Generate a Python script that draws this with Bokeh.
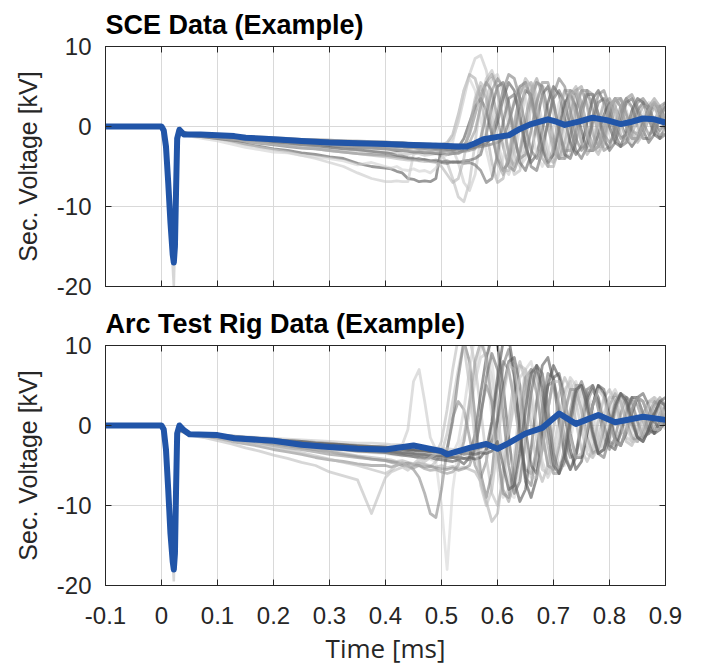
from bokeh.plotting import figure
from bokeh.layouts import column
from bokeh.models import LinearAxis, FixedTicker, Range1d
from bokeh.embed import file_html
from bokeh.resources import INLINE

# ---------------- tick labels ----------------
x_ticks = [-0.1, 0.0, 0.1, 0.2, 0.3, 0.4, 0.5, 0.6, 0.7, 0.8, 0.9]
x_tick_labels = ["-0.1", "0", "0.1", "0.2", "0.3", "0.4", "0.5", "0.6", "0.7", "0.8", "0.9"]
y_ticks = [-20, -10, 0, 10]
y_tick_labels = ["-20", "-10", "0", "10"]

# ---------------- time bases (ms) ----------------
t_spike = [-0.1, 0.0, 0.006, 0.012, 0.018, 0.022, 0.025, 0.028, 0.032, 0.04]
t_gray = [0.03, 0.05, 0.075, 0.1, 0.125, 0.15, 0.175, 0.2, 0.225, 0.25, 0.275, 0.3, 0.325, 0.35, 0.375, 0.4,
          0.41, 0.42, 0.43, 0.44, 0.45, 0.46, 0.47, 0.48, 0.49, 0.5,
          0.51, 0.52, 0.53, 0.54, 0.55, 0.56, 0.57, 0.58, 0.59, 0.6,
          0.61, 0.62, 0.63, 0.64, 0.65, 0.66, 0.67, 0.68, 0.69, 0.7,
          0.71, 0.72, 0.73, 0.74, 0.75, 0.76, 0.77, 0.78, 0.79, 0.8,
          0.81, 0.82, 0.83, 0.84, 0.85, 0.86, 0.87, 0.88, 0.89, 0.9]

# ---------------- SCE data (kV) ----------------
sce_spike = [0, 0, -1, -6, -15, -20, -12, -1.5, -0.3, -0.9]

sce_1 = [-0.6, -1.0, -1.0, -1.1, -1.2, -1.3, -1.4, -1.5, -1.6, -1.6, -1.7, -1.8, -1.8, -1.9, -2.0, -2.0,
         -2.0, -2.1, -2.0, -2.1, -2.2, -2.1, -2.2, -2.2, -2.3, -2.2,
         -2.2, -1.5, 0.5, 3.5, 6.5, 8.5, 8.9, 7.0, 3.0, -1.5,
         -5.0, -6.0, -4.0, 0.0, 4.0, 5.5, 4.0, 0.5, -3.0, -4.5,
         -3.5, 0.0, 3.5, 4.5, 3.0, 0.0, -2.5, -3.0, -1.0, 2.0,
         3.5, 2.5, 0.0, -1.5, -1.8, 0.0, 2.0, 2.8, 1.5, 0.0]
sce_2 = [-0.5, -1.0, -1.1, -1.2, -1.4, -1.6, -1.8, -2.0, -2.2, -2.3, -2.5, -2.6, -2.8, -3.0, -3.1, -3.2,
         -3.3, -3.2, -3.4, -3.5, -3.3, -3.4, -3.6, -3.5, -3.4, -3.6,
         -4.5, -6.5, -8.8, -9.4, -7.0, -2.0, 3.0, 6.0, 7.0, 5.0,
         1.0, -3.5, -6.0, -5.5, -2.0, 2.5, 5.5, 5.0, 2.0, -2.0,
         -4.0, -3.5, -0.5, 3.0, 4.5, 3.0, 0.0, -2.5, -2.5, 0.0,
         2.5, 3.5, 2.0, -0.5, -1.5, -1.0, 1.0, 2.5, 2.5, 1.0]
sce_3 = [-0.6, -1.1, -1.3, -1.5, -1.8, -2.2, -2.5, -2.8, -3.0, -3.3, -3.5, -3.8, -4.0, -4.6, -5.0, -5.2,
         -5.3, -5.6, -5.8, -6.5, -6.6, -6.9, -6.8, -6.9, -6.5, -2.5,
         -2.8, -3.0, -2.6, -1.5, 0.5, 2.5, 3.5, 2.0, -1.0, -4.0,
         -5.5, -4.5, -1.0, 2.5, 4.5, 4.0, 1.0, -2.5, -4.5, -3.5,
         0.0, 3.0, 4.0, 2.5, -0.5, -3.0, -3.0, -1.0, 1.5, 3.0,
         2.5, 0.5, -1.5, -2.5, -1.5, 0.5, 2.0, 2.5, 1.0, -0.5]
sce_4 = [-0.5, -1.0, -1.2, -1.5, -1.9, -2.3, -2.6, -2.9, -3.2, -3.6, -4.0, -4.5, -5.0, -5.8, -6.5, -6.9,
         -6.9, -6.8, -6.9, -6.9, -3.5, -3.2, -3.0, -3.2, -3.0, -3.1,
         -3.0, -2.8, -4.5, -7.0, -8.0, -6.0, -1.5, 3.0, 6.0, 6.5,
         4.0, 0.0, -3.5, -5.0, -4.0, -0.5, 3.0, 5.0, 4.5, 1.5,
         -2.0, -4.0, -3.5, -0.5, 2.5, 4.0, 3.0, 0.5, -2.0, -2.5,
         -1.0, 1.5, 3.0, 2.5, 0.5, -1.5, -1.5, 0.5, 2.0, 2.5]
sce_5 = [-0.5, -1.0, -1.1, -1.2, -1.3, -1.4, -1.5, -1.6, -1.7, -1.8, -1.9, -2.0, -2.1, -2.1, -2.2, -2.3,
         -2.3, -2.4, -2.4, -2.5, -2.5, -2.5, -2.6, -2.6, -2.7, -2.7,
         -2.8, -2.7, -2.8, -2.5, -1.0, 1.5, 4.0, 5.5, 4.5, 1.0,
         -2.5, -5.0, -5.5, -3.5, 0.0, 3.5, 5.5, 5.0, 2.0, -1.5,
         -4.0, -4.0, -1.5, 2.0, 4.5, 4.5, 2.0, -1.0, -3.0, -2.5,
         0.0, 2.5, 3.5, 2.5, 0.0, -1.5, -1.5, 0.5, 2.5, 3.0]
sce_6 = [-0.5, -1.0, -1.2, -1.3, -1.5, -1.7, -1.8, -2.0, -2.1, -2.3, -2.4, -2.6, -2.8, -2.9, -3.1, -3.3,
         -3.4, -3.6, -3.7, -3.9, -4.0, -4.2, -4.1, -4.3, -4.4, -4.5,
         -4.6, -4.4, -4.5, -4.3, -4.2, -4.0, -3.5, -1.0, 2.5, 5.0,
         5.5, 3.0, -1.0, -4.5, -5.5, -3.5, 0.5, 4.0, 5.0, 3.0,
         -0.5, -3.5, -4.0, -2.0, 1.5, 4.0, 4.0, 1.5, -1.5, -3.0,
         -2.0, 0.5, 3.0, 3.5, 2.0, -0.5, -2.0, -1.0, 1.0, 2.5]
sce_7 = [-0.5, -0.9, -1.0, -1.1, -1.2, -1.3, -1.4, -1.5, -1.5, -1.6, -1.7, -1.7, -1.8, -1.9, -1.9, -2.0,
         -2.0, -2.0, -2.1, -2.1, -2.2, -2.1, -2.2, -2.3, -2.2, -2.3,
         -2.0, -1.0, 1.5, 4.5, 6.5, 6.0, 3.5, -0.5, -4.5, -7.0,
         -6.5, -3.5, 0.5, 4.0, 6.0, 5.0, 2.0, -2.0, -5.0, -5.0,
         -2.5, 1.0, 4.0, 5.0, 3.0, 0.0, -2.5, -3.5, -2.0, 1.0,
         3.0, 3.5, 1.5, -1.0, -2.0, -1.0, 1.0, 2.5, 2.0, 0.5]
sce_8 = [-0.5, -1.0, -1.1, -1.3, -1.4, -1.6, -1.7, -1.9, -2.0, -2.1, -2.2, -2.4, -2.5, -2.6, -2.7, -2.8,
         -2.9, -3.0, -3.0, -3.1, -3.2, -3.2, -3.3, -3.3, -3.4, -3.4,
         -3.5, -3.4, -3.3, -3.0, -2.8, -2.6, -2.2, -2.0, -1.5, 0.5,
         3.5, 5.5, 4.5, 1.0, -2.5, -4.5, -3.5, -0.5, 3.0, 5.0,
         4.0, 1.0, -2.0, -3.5, -2.5, 0.5, 3.5, 4.5, 3.0, 0.0,
         -2.0, -2.5, -0.5, 2.0, 3.5, 3.0, 1.0, -1.0, -1.5, 0.0]
sce_9 = [-0.6, -1.2, -1.5, -1.8, -2.2, -2.6, -2.9, -3.2, -3.3, -3.6, -3.8, -4.0, -4.3, -4.8, -4.5, -5.0,
         -5.2, -5.0, -5.4, -5.5, -5.3, -5.6, -5.5, -5.8, -5.2, -4.0,
         -3.5, -2.0, 1.0, 4.5, 6.0, 4.5, 1.0, -3.0, -6.0, -6.5,
         -4.0, 0.0, 3.5, 5.0, 3.5, 0.0, -3.5, -5.0, -3.5, 0.0,
         3.0, 4.5, 3.5, 0.5, -2.0, -3.0, -2.0, 0.5, 2.5, 3.5,
         2.5, 0.0, -1.5, -2.0, -0.5, 1.5, 3.0, 2.5, 0.5, -1.0]
sce_10 = [-0.5, -1.0, -1.1, -1.2, -1.3, -1.4, -1.6, -1.7, -1.8, -1.9, -2.0, -2.1, -2.2, -2.3, -2.3, -2.4,
          -2.4, -2.5, -2.5, -2.6, -2.6, -2.7, -2.7, -2.7, -2.8, -2.8,
          -2.9, -2.9, -2.8, -2.9, -2.7, -2.6, -2.5, -2.4, -2.2, -2.0,
          -1.5, 0.5, 3.0, 5.0, 5.5, 3.5, 0.0, -3.0, -4.5, -3.5,
          -0.5, 2.5, 4.5, 4.0, 1.5, -1.5, -3.0, -2.5, 0.0, 2.5,
          3.5, 2.5, 0.0, -1.5, -1.5, 0.0, 2.0, 3.0, 2.0, 0.5]
sce_11 = [-0.5, -1.0, -1.0, -1.1, -1.2, -1.2, -1.3, -1.4, -1.5, -1.6, -1.6, -1.7, -1.8, -1.8, -1.9, -1.9,
          -2.0, -2.0, -2.0, -2.1, -2.1, -2.2, -2.2, -2.2, -2.3, -2.3,
          -2.3, -2.4, -2.3, -2.2, -2.0, -0.5, 2.5, 5.5, 6.5, 4.5,
          0.5, -3.5, -5.0, -3.0, 1.0, 4.5, 6.0, 4.0, 0.0, -3.0,
          -4.0, -2.0, 1.5, 4.5, 5.0, 2.5, -1.0, -2.5, -1.5, 1.5,
          3.5, 3.5, 1.5, -0.5, -1.0, 0.5, 2.5, 3.5, 2.5, 1.0]
sce_12 = [-0.5, -1.1, -1.3, -1.5, -1.7, -1.9, -2.1, -2.3, -2.5, -2.7, -2.8, -3.0, -3.2, -3.4, -3.5, -3.6,
          -3.7, -3.8, -3.9, -4.0, -4.1, -4.0, -4.2, -4.3, -4.2, -4.4,
          -4.3, -4.5, -4.4, -4.6, -4.5, -4.8, -5.5, -7.0, -6.5, -3.5,
          0.5, 3.5, 4.0, 1.5, -2.0, -5.0, -5.5, -3.0, 0.5, 3.5,
          4.5, 3.0, 0.0, -3.0, -4.0, -2.5, 0.5, 3.0, 3.5, 1.5,
          -1.0, -2.5, -2.0, 0.0, 2.0, 3.0, 2.0, 0.0, -1.5, -1.0]
sce_13 = [-0.5, -1.0, -1.1, -1.2, -1.4, -1.5, -1.7, -1.8, -2.0, -2.1, -2.2, -2.3, -2.5, -2.6, -2.7, -2.8,
          -2.8, -2.9, -3.0, -3.0, -3.1, -3.1, -3.2, -3.2, -3.3, -3.3,
          -3.4, -3.3, -3.4, -3.0, -0.5, 3.0, 5.0, 3.5, -0.5, -4.5,
          -6.0, -4.0, 0.0, 4.0, 5.5, 3.5, -0.5, -4.0, -5.0, -2.5,
          1.5, 4.5, 4.5, 1.5, -2.0, -3.5, -2.5, 0.5, 3.0, 3.5,
          1.5, -1.0, -2.0, -1.0, 1.0, 2.5, 2.5, 0.5, -1.0, -1.0]
sce_14 = [-0.5, -1.0, -1.0, -1.1, -1.2, -1.3, -1.4, -1.5, -1.6, -1.7, -1.8, -1.8, -1.9, -2.0, -2.0, -2.1,
          -2.1, -2.2, -2.2, -2.3, -2.3, -2.4, -2.4, -2.4, -2.5, -2.5,
          -2.6, -2.6, -2.5, -2.6, -2.5, -2.4, -2.3, -2.2, -1.0, 1.5,
          4.5, 6.5, 6.0, 3.5, 0.0, -3.0, -4.0, -2.5, 0.5, 4.0,
          6.0, 5.0, 2.0, -1.5, -3.0, -2.0, 1.0, 4.0, 4.5, 2.5,
          0.0, -1.5, -1.0, 1.0, 3.0, 3.5, 2.5, 0.5, -0.5, 0.5]
sce_15 = [-0.5, -1.0, -1.2, -1.4, -1.6, -1.8, -2.0, -2.2, -2.4, -2.6, -2.8, -3.0, -3.2, -3.4, -3.6, -3.8,
          -3.9, -4.0, -4.1, -4.2, -4.2, -4.3, -4.4, -4.4, -4.5, -5.0,
          -6.0, -7.0, -6.5, -4.0, 0.0, 3.5, 5.5, 4.5, 1.0, -3.0,
          -5.5, -5.5, -2.5, 1.5, 5.0, 5.5, 3.0, -1.0, -4.0, -4.5,
          -2.0, 1.5, 4.0, 4.5, 2.0, -1.0, -3.0, -2.5, 0.0, 2.5,
          3.5, 2.5, 0.0, -1.5, -1.5, 0.0, 2.0, 3.0, 2.0, 0.5]
sce_16 = [-0.5, -1.0, -1.1, -1.2, -1.3, -1.5, -1.6, -1.7, -1.8, -1.9, -2.0, -2.1, -2.2, -2.3, -2.4, -2.5,
          -2.5, -2.6, -2.6, -2.7, -2.7, -2.8, -2.8, -2.9, -2.9, -3.0,
          -3.0, -3.1, -3.0, -3.1, -3.0, -2.8, -1.5, 1.5, 4.5, 6.0,
          5.0, 2.0, -1.5, -4.0, -3.5, -0.5, 3.0, 5.5, 5.5, 3.0,
          -0.5, -3.0, -3.0, -0.5, 2.5, 4.5, 4.0, 1.5, -1.0, -2.0,
          -1.0, 1.5, 3.5, 4.0, 2.5, 0.5, -1.0, -0.5, 1.5, 3.0]

sce_mean_t = [-0.1, 0.0, 0.004, 0.008, 0.012, 0.016, 0.02, 0.022, 0.024, 0.026,
              0.028, 0.032, 0.04, 0.07, 0.1, 0.13, 0.15, 0.2, 0.25, 0.3,
              0.35, 0.4, 0.45, 0.5, 0.53, 0.545, 0.56, 0.575, 0.6, 0.62,
              0.64, 0.66, 0.69, 0.705, 0.72, 0.745, 0.77, 0.795, 0.82, 0.84,
              0.86, 0.88, 0.9]
sce_mean_v = [0, 0, -0.5, -2.5, -7.0, -12.0, -16.0, -17.0, -15.0, -8.0,
              -1.5, -0.4, -1.0, -1.0, -1.1, -1.2, -1.4, -1.6, -1.8, -2.0,
              -2.1, -2.2, -2.3, -2.4, -2.5, -2.5, -2.1, -1.6, -1.3, -1.1,
              -0.3, 0.3, 0.9, 0.6, 0.2, 0.6, 1.1, 0.8, 0.3, 0.6,
              1.0, 0.9, 0.5]

# ---------------- Arc test rig data (kV) ----------------
arc_spike = [0, 0, -1, -6, -15, -19.5, -12, -1.0, 0.2, -0.7]

arc_1 = [-0.5, -1.0, -1.1, -1.3, -1.5, -1.6, -1.8, -2.0, -2.1, -2.2, -2.3, -2.4, -2.5, -2.6, -2.7, -2.5,
         -2.6, -2.5, -2.4, -0.5, 5.5, 7.0, 3.0, -1.5, -3.0, -3.5,
         -4.0, -3.8, -3.5, -2.0, 1.5, 5.5, 8.5, 9.0, 6.0, 1.0,
         -4.0, -7.0, -6.5, -3.0, 1.5, 5.5, 7.0, 5.0, 1.0, -3.0,
         -5.0, -4.0, -0.5, 3.0, 5.0, 4.0, 1.0, -2.0, -3.0, -1.5,
         1.5, 3.5, 3.5, 1.5, -0.5, -1.5, -0.5, 1.5, 3.0, 2.5]
arc_2 = [-0.5, -1.0, -1.2, -1.4, -1.6, -1.8, -2.0, -2.2, -2.4, -2.6, -2.8, -3.0, -3.1, -3.3, -3.4, -3.5,
         -3.6, -3.7, -3.8, -3.6, -3.9, -4.0, -3.8, -4.2, -4.5, -10.0,
         -18.0, -8.0, -3.0, -1.0, 2.5, 6.5, 9.5, 11.0, 8.0, 2.0,
         -4.0, -8.5, -9.0, -5.5, 0.0, 5.0, 7.5, 6.5, 2.5, -2.0,
         -5.0, -5.0, -2.0, 2.0, 4.5, 4.5, 2.0, -1.0, -2.5, -2.0,
         0.5, 2.5, 3.5, 2.5, 0.5, -1.0, -1.0, 0.5, 2.5, 3.0]
arc_3 = [-0.5, -1.1, -1.3, -1.6, -2.0, -2.3, -2.6, -3.0, -3.3, -3.6, -4.0, -4.3, -4.5, -4.8, -5.0, -5.0,
         -5.2, -5.0, -4.8, -5.0, -5.5, -6.5, -8.5, -11.0, -11.5, -8.0,
         -3.0, 1.0, 3.0, 2.0, -1.5, -5.0, -6.5, -4.5, 0.0, 5.0,
         8.0, 7.0, 3.0, -2.0, -5.5, -6.0, -3.0, 1.5, 5.0, 5.5,
         2.5, -1.5, -4.0, -3.5, -0.5, 3.0, 4.5, 3.0, 0.0, -2.0,
         -2.5, -0.5, 2.0, 3.5, 2.5, 0.5, -1.0, -0.5, 1.5, 2.5]
arc_4 = [-0.6, -1.2, -1.5, -1.9, -2.3, -2.8, -3.2, -3.7, -4.1, -4.6, -5.0, -5.8, -6.3, -6.8, -11.0, -6.5,
         -5.8, -5.5, -5.2, -5.6, -5.0, -4.6, -4.8, -5.2, -4.5, -3.5,
         -1.0, 3.0, 7.0, 10.5, 11.0, 7.5, 2.0, -4.0, -8.5, -10.0,
         -7.0, -1.5, 4.0, 7.5, 7.0, 3.0, -2.0, -5.5, -6.0, -3.0,
         1.0, 4.5, 5.5, 3.0, -0.5, -3.5, -4.0, -1.5, 1.5, 3.5,
         3.5, 1.0, -1.5, -2.0, -0.5, 1.5, 3.0, 3.0, 1.0, -0.5]
arc_5 = [-0.5, -1.0, -1.2, -1.3, -1.5, -1.7, -1.9, -2.1, -2.3, -2.5, -2.7, -2.9, -3.0, -3.2, -3.3, -3.4,
         -3.5, -3.6, -3.7, -3.8, -3.9, -4.0, -4.1, -4.0, -4.2, -4.3,
         -4.4, -4.5, -4.3, -4.8, -4.0, -1.0, 4.0, 8.5, 11.0, 10.0,
         5.0, -1.5, -7.0, -9.5, -8.0, -3.0, 3.0, 7.5, 8.5, 5.5,
         0.5, -4.0, -5.5, -4.0, 0.0, 3.5, 5.0, 3.5, 0.0, -2.5,
         -3.0, -1.0, 1.5, 3.5, 3.5, 1.5, -0.5, -1.0, 0.5, 2.5]
arc_6 = [-0.5, -1.0, -1.1, -1.2, -1.4, -1.5, -1.7, -1.8, -1.9, -2.0, -2.1, -2.3, -2.4, -2.5, -2.6, -2.7,
         -2.8, -2.9, -3.0, -3.0, -3.1, -3.2, -3.2, -3.3, -3.4, -3.5,
         -3.0, 0.5, 6.0, 10.5, 8.0, 1.0, -6.0, -9.0, -6.0, 1.0,
         7.5, 9.5, 6.0, -1.0, -6.5, -7.5, -3.5, 2.5, 6.5, 6.0,
         1.5, -3.5, -5.5, -3.5, 0.5, 4.5, 5.0, 2.0, -1.5, -3.0,
         -1.5, 1.5, 3.5, 3.0, 0.5, -1.5, -1.0, 1.0, 3.0, 2.5]
arc_7 = [-0.5, -1.0, -1.2, -1.4, -1.6, -1.8, -2.0, -2.2, -2.5, -2.7, -3.0, -3.2, -3.5, -3.8, -4.0, -4.2,
         -4.3, -4.5, -4.4, -4.6, -4.8, -4.7, -4.9, -5.0, -5.2, -5.0,
         -5.3, -5.1, -5.4, -5.2, -5.5, -5.8, -7.0, -9.5, -12.0, -11.0,
         -6.0, 0.5, 6.0, 8.0, 5.5, 0.0, -5.0, -7.0, -5.0, -0.5,
         4.0, 6.0, 4.5, 0.5, -3.0, -4.5, -3.0, 0.5, 3.5, 4.5,
         3.0, 0.0, -2.0, -2.5, -1.0, 1.0, 3.0, 3.5, 2.0, 0.0]
arc_8 = [-0.5, -1.0, -1.1, -1.2, -1.3, -1.5, -1.6, -1.7, -1.9, -2.0, -2.1, -2.2, -2.4, -2.5, -2.6, -2.7,
         -2.8, -2.8, -2.9, -3.0, -3.0, -3.1, -3.1, -3.2, -3.2, -3.3,
         -3.3, -3.4, -3.2, -3.3, -3.1, -3.0, -2.8, -2.5, -2.0, 0.5,
         4.5, 8.0, 8.5, 5.0, -0.5, -5.0, -6.0, -3.0, 2.0, 6.0,
         6.5, 3.5, -1.0, -4.0, -4.0, -1.0, 2.5, 5.0, 4.5, 1.5,
         -1.5, -2.5, -1.0, 1.5, 3.5, 4.0, 2.5, 0.5, -0.5, 0.5]
arc_9 = [-0.5, -1.0, -1.2, -1.3, -1.4, -1.6, -1.7, -1.9, -2.0, -2.2, -2.3, -2.5, -2.6, -2.8, -2.9, -3.0,
         -3.1, -3.2, -3.2, -3.3, -3.4, -3.4, -3.5, -3.6, -3.6, -3.7,
         -3.8, -3.5, -2.0, 2.0, 7.0, 11.5, 12.0, 8.0, 1.0, -5.5,
         -9.0, -8.0, -3.5, 2.5, 7.0, 8.0, 5.0, -0.5, -5.0, -6.0,
         -3.5, 1.0, 4.5, 5.5, 3.5, 0.0, -3.0, -3.5, -1.5, 1.5,
         3.5, 3.5, 1.5, -1.0, -2.0, -1.0, 1.0, 2.5, 2.5, 1.0]
arc_10 = [-0.5, -1.1, -1.3, -1.5, -1.7, -2.0, -2.2, -2.5, -2.8, -3.0, -3.3, -3.6, -3.8, -4.0, -4.2, -4.4,
          -4.5, -4.6, -4.8, -4.7, -4.9, -5.0, -5.2, -5.1, -5.3, -5.4,
          -5.5, -5.3, -5.6, -5.4, -5.0, -3.0, 1.5, 5.0, 3.0, -3.0,
          -8.5, -9.0, -5.0, 1.0, 6.0, 7.0, 4.0, -1.0, -5.0, -5.5,
          -2.5, 1.5, 4.5, 4.5, 2.0, -1.5, -3.5, -3.0, -0.5, 2.5,
          4.0, 3.0, 0.5, -1.5, -2.0, -0.5, 1.5, 3.0, 2.5, 1.0]
arc_11 = [-0.5, -1.0, -1.1, -1.3, -1.4, -1.6, -1.8, -1.9, -2.1, -2.2, -2.4, -2.5, -2.7, -2.8, -3.0, -3.1,
          -3.2, -3.3, -3.4, -3.4, -3.5, -3.6, -3.6, -3.7, -3.8, -3.8,
          -3.9, -4.0, -3.9, -4.1, -4.0, -4.2, -4.0, -3.0, 0.5, 6.0,
          10.5, 11.0, 6.5, -0.5, -7.0, -9.0, -6.5, -0.5, 5.0, 7.5,
          6.0, 1.5, -3.0, -5.5, -4.5, -1.0, 2.5, 5.0, 4.0, 1.0,
          -2.0, -2.5, -0.5, 2.0, 3.5, 3.0, 1.0, -1.0, -0.5, 1.5]
arc_12 = [-0.5, -1.0, -1.1, -1.2, -1.3, -1.4, -1.5, -1.6, -1.7, -1.8, -1.9, -2.0, -2.1, -2.2, -2.2, -2.3,
          -2.4, -2.4, -2.5, -2.5, -2.6, -2.7, -2.7, -2.8, -2.8, -2.9,
          -2.9, -3.0, -3.0, -3.1, -3.0, -3.2, -3.1, -3.3, -3.2, -3.0,
          -2.5, -1.0, 2.5, 6.0, 7.0, 4.5, 0.0, -4.5, -6.5, -5.0,
          -1.0, 3.5, 6.0, 5.0, 1.5, -2.5, -4.0, -3.0, 0.5, 3.5,
          4.5, 3.0, 0.0, -2.0, -2.0, 0.0, 2.5, 3.5, 3.0, 1.0]
arc_13 = [-0.5, -1.0, -1.2, -1.4, -1.6, -1.8, -2.0, -2.3, -2.5, -2.8, -3.0, -3.3, -3.6, -3.9, -4.2, -4.4,
          -4.6, -4.8, -5.0, -5.1, -5.3, -5.0, -5.4, -5.6, -5.5, -5.8,
          -6.0, -5.8, -5.0, -2.0, 3.0, 8.0, 10.5, 8.5, 3.0, -3.5,
          -8.0, -9.5, -7.0, -1.5, 4.0, 7.0, 6.5, 2.5, -2.5, -6.0,
          -6.0, -2.5, 2.0, 5.0, 5.0, 2.0, -1.5, -3.5, -3.0, 0.0,
          3.0, 4.0, 2.5, 0.0, -1.5, -1.5, 0.5, 2.5, 3.5, 2.5]
arc_14 = [-0.5, -1.0, -1.1, -1.3, -1.5, -1.6, -1.8, -2.0, -2.1, -2.3, -2.4, -2.6, -2.8, -2.9, -3.1, -3.2,
          -3.3, -3.4, -3.5, -3.6, -3.6, -3.7, -3.8, -3.9, -3.9, -4.0,
          -4.1, -4.0, -4.2, -4.1, -4.3, -3.0, 1.0, 6.0, 9.0, 7.0,
          1.5, -5.0, -8.5, -7.0, -2.0, 4.0, 7.5, 6.5, 2.0, -3.5,
          -6.0, -4.5, 0.0, 4.0, 5.5, 3.5, -0.5, -3.5, -4.0, -1.5,
          2.0, 4.0, 3.5, 1.0, -1.5, -2.0, -0.5, 1.5, 3.0, 2.5]
arc_15 = [-0.5, -1.0, -1.2, -1.5, -1.8, -2.1, -2.4, -2.7, -3.0, -3.4, -3.8, -4.2, -4.6, -5.0, -5.5, -6.0,
          -5.6, -5.0, -4.6, -5.2, -4.8, -4.2, -4.5, -4.0, -3.5, -2.0,
          2.0, 7.0, 11.0, 10.0, 5.0, -2.0, -7.5, -10.0, -8.0, -2.5,
          3.5, 7.5, 7.0, 3.0, -2.5, -6.5, -6.5, -3.0, 2.0, 5.5,
          5.5, 2.5, -1.5, -4.0, -3.5, -0.5, 2.5, 4.5, 3.5, 0.5,
          -2.0, -2.5, -0.5, 2.0, 3.5, 3.0, 1.0, -0.5, -0.5, 1.5]
arc_16 = [-0.5, -1.0, -1.1, -1.2, -1.4, -1.5, -1.6, -1.8, -1.9, -2.0, -2.2, -2.3, -2.4, -2.6, -2.7, -2.8,
          -2.9, -2.9, -3.0, -3.1, -3.1, -3.2, -3.2, -3.3, -3.3, -3.4,
          -3.4, -3.5, -3.4, -3.6, -3.5, -3.6, -3.4, -3.5, -3.2, -2.0,
          -5.0, -8.0, -7.5, -3.5, 2.0, 6.5, 7.5, 4.5, -0.5, -5.0,
          -6.0, -3.5, 1.0, 4.5, 5.0, 2.5, -1.0, -3.5, -3.0, -0.5,
          2.5, 4.0, 3.0, 0.5, -1.5, -2.0, -0.5, 1.5, 3.0, 3.5]

arc_mean_t = [-0.1, 0.0, 0.004, 0.008, 0.012, 0.016, 0.02, 0.022, 0.024, 0.026,
              0.028, 0.032, 0.04, 0.05, 0.1, 0.13, 0.2, 0.25, 0.3, 0.35,
              0.4, 0.45, 0.5, 0.51, 0.55, 0.58, 0.6, 0.62, 0.65, 0.68,
              0.71, 0.74, 0.78, 0.81, 0.86, 0.9]
arc_mean_v = [0, 0, -0.5, -3.0, -8.0, -13.5, -17.0, -18.0, -16.0, -8.0,
              -1.0, 0.0, -0.6, -1.1, -1.2, -1.6, -1.9, -2.4, -2.7, -2.9,
              -3.0, -2.5, -3.2, -3.6, -2.8, -2.3, -2.9, -2.2, -1.0, -0.3,
              1.5, 0.2, 1.3, 0.4, 1.1, 0.7]

sce_traces = [sce_1, sce_2, sce_3, sce_4, sce_5, sce_6, sce_7, sce_8,
              sce_9, sce_10, sce_11, sce_12, sce_13, sce_14, sce_15, sce_16]
arc_traces = [arc_1, arc_2, arc_3, arc_4, arc_5, arc_6, arc_7, arc_8,
              arc_9, arc_10, arc_11, arc_12, arc_13, arc_14, arc_15, arc_16]

# styles
sce_colors = ["#c4c4c4", "#bcbcbc", "#555555", "#c8c8c8", "#888888", "#666666",
              "#aaaaaa", "#5a5a5a", "#d0d0d0", "#777777", "#999999", "#6e6e6e",
              "#a0a0a0", "#7f7f7f", "#b4b4b4", "#8a8a8a"]
arc_colors = ["#c8c8c8", "#d5d5d5", "#888888", "#bdbdbd", "#555555", "#7a7a7a",
              "#b0b0b0", "#606060", "#cfcfcf", "#8c8c8c", "#4d4d4d", "#c4c4c4",
              "#9a9a9a", "#707070", "#bababa", "#5c5c5c"]

AX = "#262626"
BLUE = "#2155a8"
TICK_FONT = "Liberation Sans"


def hide_labels(ax):
    ax.major_label_overrides = {t: "" for t in ax.ticker.ticks}
    ax.major_label_text_font_size = "1px"
    ax.major_label_standoff = 0


def make_panel(title, traces, colors, spike_v, mean_t, mean_v, bottom):
    p = figure(frame_width=560, frame_height=240,
               x_range=Range1d(-0.1, 0.9), y_range=Range1d(-20, 10),
               output_backend="svg", toolbar_location=None,
               min_border_left=105, min_border_right=20,
               min_border_top=46,
               min_border_bottom=(80 if bottom else 13))
    p.title.text = title
    p.title.text_font = TICK_FONT
    p.title.text_font_size = "27px"
    p.title.text_font_style = "bold"
    p.title.text_color = "black"
    p.title.align = "left"
    p.title.offset = 0
    p.title.standoff = 13
    p.background_fill_color = "white"
    p.border_fill_color = "white"
    p.outline_line_color = AX
    p.outline_line_width = 1
    p.outline_line_alpha = 1.0

    for g in (p.xgrid, p.ygrid):
        g.grid_line_color = "#d9d9d9"
        g.grid_line_width = 1
    p.xgrid.ticker = FixedTicker(ticks=x_ticks)
    p.ygrid.ticker = FixedTicker(ticks=y_ticks)

    for tr, c in zip(traces, colors):
        p.line(t_gray, tr, line_color=c, line_width=2.8, line_alpha=0.6, line_join="round")
    p.line(t_spike, spike_v, line_color="#cccccc", line_width=2.5, line_alpha=0.8)
    p.line(mean_t, mean_v, line_color=BLUE, line_width=6, line_join="round")

    # left axis
    ya = p.yaxis[0]
    ya.ticker = FixedTicker(ticks=y_ticks)
    ya.major_label_overrides = dict(zip(y_ticks, y_tick_labels))
    ya.axis_label = "Sec. Voltage [kV]"
    ya.axis_label_text_font = TICK_FONT
    ya.axis_label_text_font_size = "25px"
    ya.axis_label_text_font_style = "normal"
    ya.axis_label_text_color = "#262626"
    ya.axis_label_standoff = 12
    ya.major_label_text_font = TICK_FONT
    ya.major_label_text_font_size = "24px"
    ya.major_label_text_color = "#262626"
    ya.major_label_standoff = 14

    # bottom axis
    xa = p.xaxis[0]
    xa.ticker = FixedTicker(ticks=x_ticks)
    if bottom:
        xa.major_label_overrides = dict(zip(x_ticks, x_tick_labels))
        xa.major_label_text_font = TICK_FONT
        xa.major_label_text_font_size = "24px"
        xa.major_label_text_color = "#262626"
        xa.major_label_standoff = 21
        xa.axis_label = "Time [ms]"
        xa.axis_label_text_font = "Open Sans"
        xa.axis_label_text_font_size = "26px"
        xa.axis_label_text_font_style = "normal"
        xa.axis_label_text_color = "#262626"
        xa.axis_label_standoff = 3
    else:
        hide_labels(xa)

    # mirror axes (top / right) for MATLAB-like box ticks
    top_ax = LinearAxis(ticker=FixedTicker(ticks=x_ticks))
    right_ax = LinearAxis(ticker=FixedTicker(ticks=y_ticks))
    p.add_layout(top_ax, "above")
    p.add_layout(right_ax, "right")
    hide_labels(top_ax)
    hide_labels(right_ax)

    for ax in (xa, ya, top_ax, right_ax):
        ax.axis_line_color = AX
        ax.major_tick_line_color = AX
        ax.major_tick_in = 6
        ax.major_tick_out = 0
        ax.minor_tick_line_color = None
    return p


top = make_panel("SCE Data (Example)", sce_traces, sce_colors, sce_spike, sce_mean_t, sce_mean_v, False)
bot = make_panel("Arc Test Rig Data (Example)", arc_traces, arc_colors, arc_spike, arc_mean_t, arc_mean_v, True)

layout = column(top, bot, spacing=0)
open("out.html", "w").write(file_html(layout, INLINE))
